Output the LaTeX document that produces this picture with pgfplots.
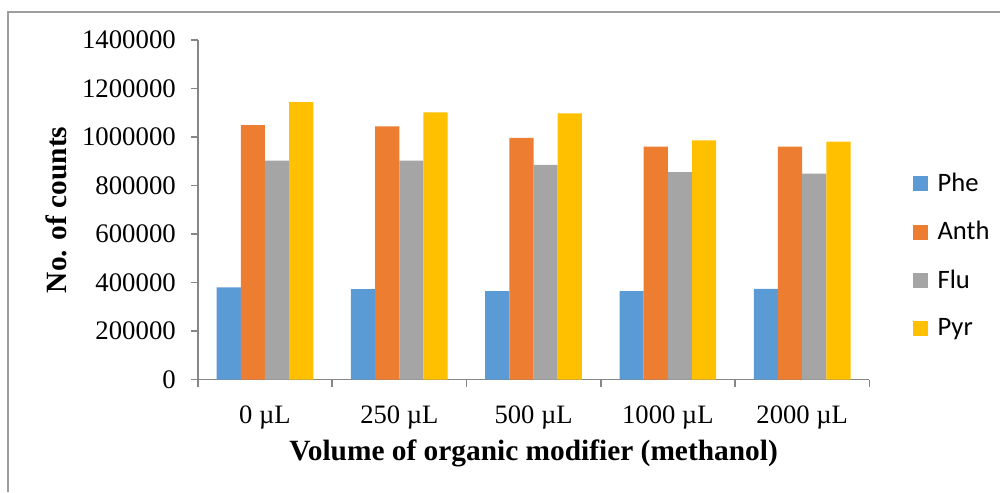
\documentclass[border=0pt]{standalone}
\usepackage{pgfplots}
\pgfplotsset{compat=1.18}
\usepackage{fontspec}
\setmainfont{Liberation Serif}
\newfontfamily\calibri{Carlito}

\definecolor{cPhe}{HTML}{5B9BD5}
\definecolor{cAnth}{HTML}{ED7D31}
\definecolor{cFlu}{HTML}{A5A5A5}
\definecolor{cPyr}{HTML}{FFC000}
\definecolor{axgray}{HTML}{868686}

\begin{document}
\begin{tikzpicture}
% page: 1001 x 492 px, 1 px = 0.5pt
\path (0,0) rectangle (500.5pt,246pt);
\draw[axgray!80, line width=0.8pt] (4pt,0) -- (4pt,240pt) -- (500.5pt,240pt);
\begin{axis}[
    at={(99pt,56pt)}, anchor=south west,
    scale only axis,
    width=336pt, height=170pt,
    ymin=0, ymax=1400000,
    ytick={0,200000,...,1400000},
    scaled y ticks=false,
    yticklabel style={/pgf/number format/fixed,/pgf/number format/1000 sep={},
      /pgf/number format/assume math mode=true, font=\fontsize{13.4}{15}\selectfont,
      xshift=-4pt},
    xmin=-0.5, xmax=4.5,
    xtick={0,1,2,3,4},
    xticklabels={0 µL,250 µL,500 µL,1000 µL,2000 µL},
    xticklabel style={font=\fontsize{13.3}{15}\selectfont, yshift=-6pt},
    major x tick style={draw=none},
    minor xtick={-0.5,0.5,1.5,2.5,3.5,4.5},
    minor tick length=3.5pt,
    major tick length=3.5pt,
    tick align=outside,
    axis x line*=bottom, axis y line*=left,
    axis line style={axgray, line width=0.8pt},
    every tick/.style={axgray, line width=0.8pt},
    xlabel={\textbf{Volume of organic modifier (methanol)}},
    ylabel={\textbf{No. of counts}},
    label style={font=\fontsize{14.7}{17}\selectfont},
    xlabel style={at={(axis description cs:0.5,-0.218)}, anchor=center},
    ylabel style={at={(axis description cs:-0.21,0.5)}, anchor=center},
    ybar, bar width=0.18,
    legend style={at={(1.055,0.634)}, anchor=north west, draw=none,
      font=\calibri\fontsize{13.3}{15}\selectfont, row sep=9.6pt,
      legend cell align=left},
    legend image code/.code={\fill[#1] (0pt,-3.75pt) rectangle (7.5pt,3.75pt);
      \path (10.5pt,0pt);},
]
\addplot[fill=cPhe, draw=none, bar shift=-0.27] coordinates
  {(0,380000) (1,373000) (2,365000) (3,365000) (4,374000)};
\addplot[fill=cAnth, draw=none, bar shift=-0.09] coordinates
  {(0,1049000) (1,1044000) (2,997000) (3,960000) (4,960000)};
\addplot[fill=cFlu, draw=none, bar shift=0.09] coordinates
  {(0,903000) (1,903000) (2,885000) (3,855000) (4,849000)};
\addplot[fill=cPyr, draw=none, bar shift=0.27] coordinates
  {(0,1144000) (1,1102000) (2,1097000) (3,986000) (4,981000)};
\legend{Phe,Anth,Flu,Pyr}
\end{axis}
\end{tikzpicture}
\end{document}
